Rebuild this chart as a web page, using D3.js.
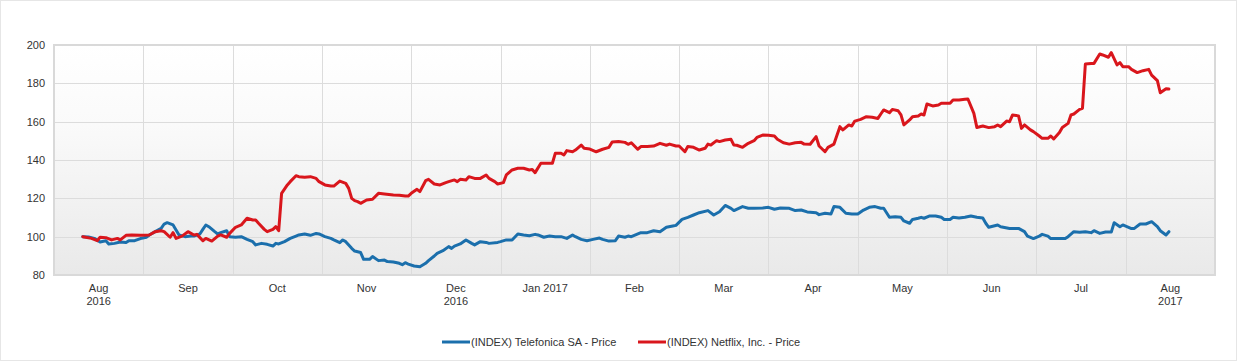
<!DOCTYPE html>
<html><head><meta charset="utf-8">
<script src="https://cdn.jsdelivr.net/npm/d3@7"></script>
<style>
body{margin:0;background:#fff;}
svg{display:block;font-family:"Liberation Sans",Arial,sans-serif;}
</style>
</head><body>
<svg id="chart" width="1237" height="361"></svg>
<script>
// ---------- DATA ----------
const monthKeys = ["2016-08","2016-09","2016-10","2016-11","2016-12","2017-01","2017-02","2017-03","2017-04","2017-05","2017-06","2017-07","2017-08"];
const xTickLabels = [["Aug","2016"],["Sep"],["Oct"],["Nov"],["Dec","2016"],["Jan 2017"],["Feb"],["Mar"],["Apr"],["May"],["Jun"],["Jul"],["Aug","2017"]];
const yTicks = [80,100,120,140,160,180,200];
const seriesNames = ["(INDEX) Telefonica SA - Price","(INDEX) Netflix, Inc. - Price"];
const seriesColors = ["#1b6fac","#d9161c"];

const telefonicaDates = ["2016-08-11","2016-08-13","2016-08-15","2016-08-17","2016-08-19","2016-08-20","2016-08-22","2016-08-24","2016-08-26","2016-08-27","2016-08-29","2016-08-31",
"2016-09-02","2016-09-03","2016-09-05","2016-09-07","2016-09-08","2016-09-09","2016-09-11","2016-09-12","2016-09-13","2016-09-15","2016-09-17","2016-09-18","2016-09-20","2016-09-21","2016-09-22","2016-09-23","2016-09-25","2016-09-26","2016-09-27","2016-09-29","2016-09-30",
"2016-10-02","2016-10-04","2016-10-06","2016-10-08","2016-10-09","2016-10-11","2016-10-13","2016-10-15","2016-10-16","2016-10-17","2016-10-19","2016-10-21","2016-10-23","2016-10-24","2016-10-26","2016-10-28","2016-10-30","2016-10-31",
"2016-11-02","2016-11-04","2016-11-05","2016-11-07","2016-11-08","2016-11-09","2016-11-11","2016-11-12","2016-11-14","2016-11-15","2016-11-17","2016-11-18","2016-11-20","2016-11-22","2016-11-23","2016-11-25","2016-11-27","2016-11-28","2016-11-29","2016-11-30",
"2016-12-02","2016-12-04","2016-12-06","2016-12-07","2016-12-09","2016-12-10","2016-12-12","2016-12-14","2016-12-15","2016-12-16","2016-12-18","2016-12-20","2016-12-22","2016-12-23","2016-12-25","2016-12-27","2016-12-28","2016-12-31",
"2017-01-01","2017-01-03","2017-01-05","2017-01-07","2017-01-09","2017-01-11","2017-01-13","2017-01-14","2017-01-16","2017-01-18","2017-01-20","2017-01-22","2017-01-24","2017-01-26","2017-01-27","2017-01-29","2017-01-31",
"2017-02-02","2017-02-04","2017-02-05","2017-02-07","2017-02-09","2017-02-10","2017-02-12","2017-02-13","2017-02-14","2017-02-17","2017-02-19","2017-02-21","2017-02-23","2017-02-25","2017-02-27","2017-02-28",
"2017-03-02","2017-03-04","2017-03-06","2017-03-08","2017-03-11","2017-03-13","2017-03-15","2017-03-17","2017-03-19","2017-03-20","2017-03-23","2017-03-25","2017-03-27","2017-03-30",
"2017-04-01","2017-04-03","2017-04-05","2017-04-08","2017-04-10","2017-04-12","2017-04-14","2017-04-17","2017-04-18","2017-04-20","2017-04-22","2017-04-23","2017-04-25","2017-04-27","2017-04-29",
"2017-05-01","2017-05-03","2017-05-05","2017-05-07","2017-05-09","2017-05-10","2017-05-12","2017-05-14","2017-05-16","2017-05-17","2017-05-19","2017-05-20","2017-05-22","2017-05-23","2017-05-24","2017-05-26","2017-05-28","2017-05-30","2017-05-31",
"2017-06-02","2017-06-03","2017-06-05","2017-06-07","2017-06-09","2017-06-11","2017-06-13","2017-06-14","2017-06-15","2017-06-18","2017-06-19","2017-06-22","2017-06-24","2017-06-25","2017-06-27","2017-06-28","2017-06-30",
"2017-07-02","2017-07-03","2017-07-05","2017-07-06","2017-07-09","2017-07-11","2017-07-12","2017-07-14","2017-07-16","2017-07-18","2017-07-20","2017-07-21","2017-07-23","2017-07-25","2017-07-27","2017-07-28","2017-07-30","2017-07-31",
"2017-08-03","2017-08-04","2017-08-06","2017-08-08","2017-08-10","2017-08-12","2017-08-13","2017-08-15","2017-08-16"];
const telefonicaValues = [100,99.8,99.1,97.2,97.9,96.2,96.5,97.2,96.9,97.9,97.9,99.0,
99.7,100.9,102.6,104.3,106.6,107.3,106.1,103.5,100.9,100,100.3,100.3,101.4,103.8,106.1,105.2,102.6,101.4,102.1,103.1,100,
99.7,100,98.6,97.4,95.7,96.5,96.0,95.1,96.5,96.2,97.4,99.1,100.3,100.9,101.4,100.7,101.7,101.4,
100,99.1,98.3,96.9,98.3,97.4,93.9,92.5,91.7,88.2,88.2,89.6,87.5,87.8,87.0,86.8,86.1,85.4,86.4,85.7,
84.7,84.3,86.1,87.5,89.9,91.3,92.7,94.8,93.9,95.1,96.2,98.3,96.5,95.7,97.4,97.0,96.5,97.0,
97.4,98.3,98.3,101.4,100.9,100.5,101.2,100.9,99.7,100.3,100,100,99.1,100.9,100,98.6,97.9,
98.6,99.3,98.6,97.7,97.9,100.3,99.7,100.3,100,102.1,102.1,103.1,102.6,104.9,105.6,105.9,
109,110.1,111.3,112.5,113.6,111.3,113,116.3,114.8,113.6,115.7,114.8,114.8,115,
115.3,114.3,115,114.8,113.6,113.9,112.9,112.5,111.5,112.2,111.8,115.7,115.3,112.2,111.8,
111.8,113.9,115.3,115.7,114.8,114.8,110.1,110.4,110.1,108.2,107,109,109.6,110.1,109.6,110.8,110.8,110.1,109,
109,110.1,109.7,110.1,110.8,110.1,109.7,107,104.9,106.1,105.2,104.3,104.3,104.3,102.6,100.3,99,
100.3,101.2,100.3,99,99,99,100,102.6,102.3,102.6,102.1,103.1,101.7,102.4,102.4,107.3,105.2,106.1,
104.2,104.3,106.6,106.6,107.8,105.2,103.1,100.9,102.6];

const netflixDates = ["2016-08-11","2016-08-14","2016-08-16","2016-08-17","2016-08-19","2016-08-21","2016-08-23","2016-08-24","2016-08-26","2016-08-28","2016-08-31",
"2016-09-03","2016-09-05","2016-09-07","2016-09-08","2016-09-10","2016-09-11","2016-09-12","2016-09-14","2016-09-16","2016-09-18","2016-09-19","2016-09-21","2016-09-22","2016-09-24","2016-09-26","2016-09-27","2016-09-29","2016-09-30",
"2016-10-02","2016-10-04","2016-10-06","2016-10-08","2016-10-09","2016-10-10","2016-10-12","2016-10-13","2016-10-15","2016-10-16","2016-10-17","2016-10-18","2016-10-20","2016-10-21","2016-10-23","2016-10-24","2016-10-26","2016-10-28","2016-10-30","2016-10-31",
"2016-11-02","2016-11-04","2016-11-05","2016-11-07","2016-11-09","2016-11-10","2016-11-11","2016-11-12","2016-11-13","2016-11-14","2016-11-16","2016-11-18","2016-11-20","2016-11-22","2016-11-25","2016-11-27","2016-11-29","2016-11-30",
"2016-12-01","2016-12-03","2016-12-04","2016-12-06","2016-12-07","2016-12-09","2016-12-11","2016-12-13","2016-12-14","2016-12-16","2016-12-17","2016-12-18","2016-12-20","2016-12-21","2016-12-23","2016-12-25","2016-12-27","2016-12-28","2016-12-30","2016-12-31",
"2017-01-02","2017-01-03","2017-01-05","2017-01-07","2017-01-09","2017-01-11","2017-01-12","2017-01-13","2017-01-15","2017-01-17","2017-01-19","2017-01-20","2017-01-22","2017-01-23","2017-01-24","2017-01-26","2017-01-27","2017-01-29","2017-01-30",
"2017-02-01","2017-02-03","2017-02-05","2017-02-07","2017-02-08","2017-02-10","2017-02-12","2017-02-13","2017-02-14","2017-02-16","2017-02-17","2017-02-19","2017-02-21","2017-02-23","2017-02-25","2017-02-26","2017-02-28",
"2017-03-01","2017-03-03","2017-03-04","2017-03-06","2017-03-08","2017-03-10","2017-03-11","2017-03-12","2017-03-14","2017-03-15","2017-03-17","2017-03-19","2017-03-20","2017-03-21","2017-03-23","2017-03-25","2017-03-27","2017-03-28","2017-03-30",
"2017-04-01","2017-04-03","2017-04-04","2017-04-06","2017-04-08","2017-04-10","2017-04-12","2017-04-13","2017-04-15","2017-04-17","2017-04-18","2017-04-20","2017-04-21","2017-04-23","2017-04-25","2017-04-26","2017-04-28","2017-04-29","2017-04-30",
"2017-05-02","2017-05-04","2017-05-06","2017-05-08","2017-05-09","2017-05-10","2017-05-12","2017-05-13","2017-05-15","2017-05-16","2017-05-17","2017-05-19","2017-05-20","2017-05-22","2017-05-23","2017-05-24","2017-05-25","2017-05-27","2017-05-29","2017-05-30",
"2017-06-02","2017-06-03","2017-06-05","2017-06-07","2017-06-08","2017-06-10","2017-06-11","2017-06-13","2017-06-15","2017-06-17","2017-06-18","2017-06-19","2017-06-21","2017-06-22","2017-06-23","2017-06-25","2017-06-26","2017-06-27","2017-06-29","2017-06-30",
"2017-07-02","2017-07-03","2017-07-05","2017-07-06","2017-07-07","2017-07-09","2017-07-10","2017-07-12","2017-07-13","2017-07-14","2017-07-16","2017-07-17","2017-07-18","2017-07-20","2017-07-21","2017-07-23","2017-07-24","2017-07-26","2017-07-27","2017-07-29","2017-07-30","2017-07-31",
"2017-08-02","2017-08-03","2017-08-05","2017-08-07","2017-08-09","2017-08-10","2017-08-12","2017-08-13","2017-08-15","2017-08-16"];
const netflixValues = [100,99.1,97.9,99.7,99.5,98.3,99.1,98.3,100.7,100.9,100.7,
100.9,102.6,103.1,102.6,99.7,102.1,99.1,100.3,102.6,100.9,101.2,97.9,99.1,97.7,100.3,100.9,99.7,101.7,
104.9,106.1,109.6,108.7,108.7,107,103.8,102.6,103.8,105.2,103.1,122.6,127,128.7,131.8,131.3,131,131.3,130.4,128.7,
127,126.4,126.4,129,127.8,125.2,120,118.8,118.3,117.4,119.1,119.5,122.6,122.3,121.7,121.6,121.2,121.2,
122.6,124.7,123.5,129.2,129.9,127.5,127,128.2,128.7,129.6,128.7,129.9,129.6,131.3,130.4,130.4,132.2,130.4,128.7,127.5,
128.2,132.2,134.8,135.7,135.7,134.8,135.1,133.4,138.3,138.3,138.3,143.5,143.5,142.6,144.9,144.3,145.2,147.8,146.1,
145.7,144.3,145.6,146.6,149.4,149.6,149.2,148.2,149,145.6,147,147,147.3,148.7,147.7,148.3,147.3,
147.3,144.3,147,146.6,145.2,146.1,148.3,147.8,150.1,149.6,150.4,150.8,147.8,147.7,146.6,148.7,150.1,151.8,153,
152.9,152.5,150.8,149,148.3,149,149.2,148.3,148.2,152.2,147.3,144.3,146.6,148.3,157.4,155.7,158.3,157.7,160.3,
161.2,162.6,162.3,161.7,164,166.1,164.7,166.4,165.7,163.5,158.3,160.9,162.6,163,164,163.5,169.2,168.2,168.7,169.6,
169.6,171.3,171.3,171.7,171.8,164.3,157,157.7,156.9,157.4,158.3,157.4,160.3,160,163.5,163,156.5,158.3,155.7,154.8,
152.5,151.3,151.3,152.5,151,154.3,157,159.1,163.5,164,166.4,167,190.1,190.4,190.4,195.3,194.8,193.6,196,189.6,190.8,188.7,
188.7,187.3,185.6,186.6,187.3,184.3,181.4,175.1,177.2,177];

// ---------- LAYOUT ----------
const W = 1237, H = 361;
const plot = {left: 54, right: 1215, top: 45, bottom: 275};
const svg = d3.select("#chart");

// outer light frame
svg.append("rect").attr("x",0.5).attr("y",0.5).attr("width",W-1).attr("height",H-1)
  .attr("fill","#fff").attr("stroke","#e6e6e6");

const xBand = d3.scaleBand().domain(monthKeys).range([plot.left, plot.right]).padding(0);
const y = d3.scaleLinear().domain([80, 200]).range([plot.bottom, plot.top]);
const parse = d3.timeParse("%Y-%m-%d");
const fmtKey = d3.timeFormat("%Y-%m");
function xPos(s) {
  const d = parse(s);
  const start = d3.timeMonth.floor(d);
  const nDays = d3.timeDay.count(start, d3.timeMonth.offset(start, 1));
  return xBand(fmtKey(d)) + xBand.bandwidth() * (d.getDate() - 1) / nDays;
}

// background gradient
const defs = svg.append("defs");
const grad = defs.append("linearGradient").attr("id","bg").attr("x1",0).attr("y1",0).attr("x2",0).attr("y2",1);
grad.append("stop").attr("offset","0%").attr("stop-color","#ffffff");
grad.append("stop").attr("offset","35%").attr("stop-color","#fafafa");
grad.append("stop").attr("offset","100%").attr("stop-color","#e9e9e9");
svg.append("rect").attr("x",plot.left).attr("y",plot.top)
  .attr("width",plot.right-plot.left).attr("height",plot.bottom-plot.top)
  .attr("fill","url(#bg)");

// grid
const grid = svg.append("g").attr("stroke","#dcdcdc").attr("stroke-width",1);
grid.selectAll("line.h").data(yTicks.slice(1,-1)).join("line")
  .attr("x1",plot.left).attr("x2",plot.right)
  .attr("y1",d=>Math.round(y(d))+0.5).attr("y2",d=>Math.round(y(d))+0.5);
grid.selectAll("line.v").data(monthKeys.slice(1)).join("line")
  .attr("y1",plot.top).attr("y2",plot.bottom)
  .attr("x1",d=>Math.round(xBand(d))+0.5).attr("x2",d=>Math.round(xBand(d))+0.5);

// frame
svg.append("rect").attr("x",plot.left).attr("y",plot.top)
  .attr("width",plot.right-plot.left).attr("height",plot.bottom-plot.top)
  .attr("fill","none").attr("stroke","#d9d9d9").attr("stroke-width",2);

// y axis
const yAxis = svg.append("g").attr("transform",`translate(${plot.left},0)`)
  .call(d3.axisLeft(y).tickValues(yTicks).tickSize(0).tickPadding(9));
yAxis.select(".domain").remove();
yAxis.selectAll("text").attr("font-size",11).attr("fill","#333")
  .attr("font-family","'Liberation Sans',Arial,sans-serif");

// x axis labels (centered in month bands)
const xAxis = svg.append("g").attr("transform",`translate(0,${plot.bottom})`)
  .call(d3.axisBottom(xBand).tickSize(0).tickFormat(""));
xAxis.select(".domain").remove();
xAxis.selectAll(".tick").each(function(d, i) {
  const t = d3.select(this).append("text").attr("fill","#333").attr("font-size",11)
    .attr("font-family","'Liberation Sans',Arial,sans-serif").attr("text-anchor","middle");
  xTickLabels[i].forEach((line, j) => {
    t.append("tspan").attr("x",0).attr("y",17 + j*13).text(line);
  });
});

// lines
const series = [
  {dates: telefonicaDates, values: telefonicaValues},
  {dates: netflixDates, values: netflixValues}
];
const line = d3.line().x(d => xPos(d[0])).y(d => y(d[1]));
series.forEach((s, i) => {
  const pts = s.dates.map((d, k) => [d, s.values[k]]);
  svg.append("path").datum(pts)
    .attr("fill","none").attr("stroke",seriesColors[i]).attr("stroke-width",3)
    .attr("stroke-linejoin","round").attr("stroke-linecap","round")
    .attr("d", line);
});

// legend
const legendX = [442, 638];
const legend = svg.append("g");
seriesNames.forEach((name, i) => {
  const g = legend.append("g").attr("transform",`translate(${legendX[i]},342)`);
  g.append("line").attr("x1",0).attr("x2",28).attr("y1",0).attr("y2",0)
    .attr("stroke",seriesColors[i]).attr("stroke-width",3);
  g.append("text").attr("x",29).attr("y",4).attr("font-size",11).attr("fill","#333").text(name);
});
</script>
</body></html>
